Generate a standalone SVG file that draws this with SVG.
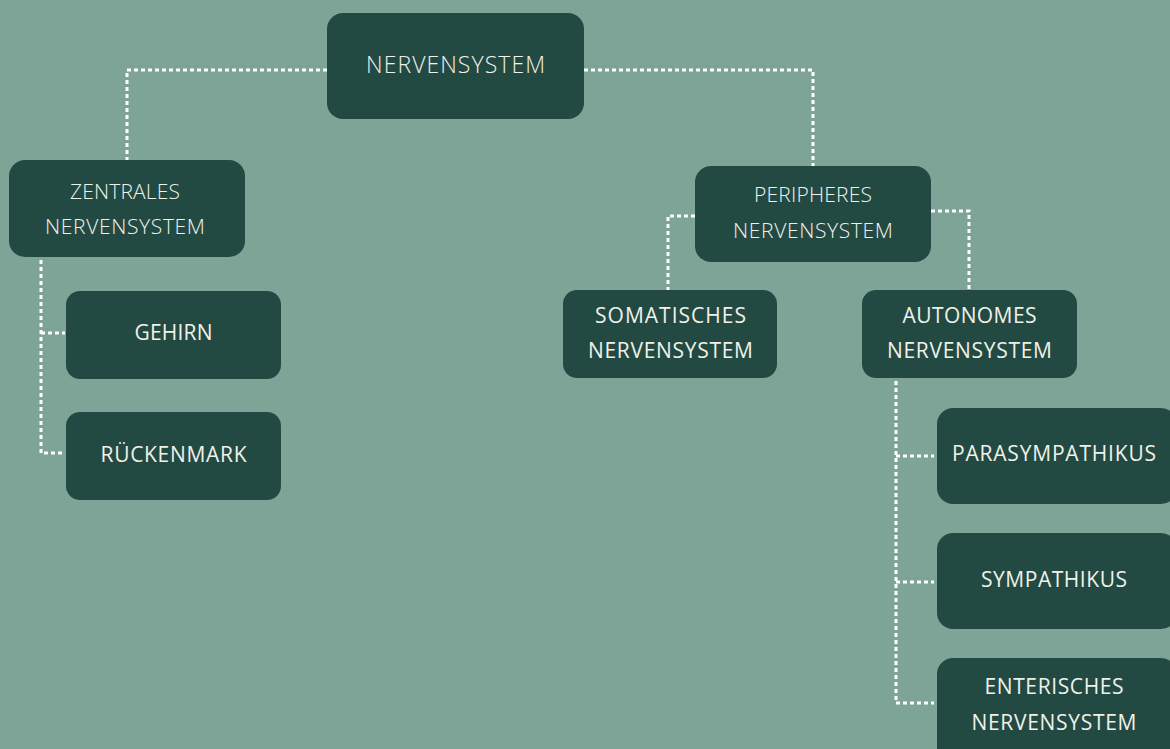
<svg xmlns="http://www.w3.org/2000/svg" width="1170" height="749" viewBox="0 0 1170 749">
<style>
.bg{fill:#7da497}
.box{fill:#224a43}
.t{font-family:"Open Sans","Liberation Sans",sans-serif;font-size:21px;fill:#f0f1e8;text-anchor:middle}
.light{font-weight:300}
.title{font-weight:300;font-size:23px}
.c{fill:none;stroke:#ffffff;stroke-width:3;stroke-dasharray:4 3}
</style>
<rect class="bg" x="0" y="0" width="1170" height="749"/>
<g id="connectors">
<path class="c" d="M327 70 H127 V160"/>
<path class="c" d="M584 70 H813 V166"/>
<path class="c" d="M41 260 V453 H65 M41 333 H65"/>
<path class="c" d="M695 216 H668 V290"/>
<path class="c" d="M931 211 H969 V290"/>
<path class="c" d="M896 381 V703 H934 M896 456 H934 M896 582 H934"/>
</g>
<g id="n-nervensystem"><rect class="box" x="327" y="13" width="257" height="106" rx="16"/><text class="t title" x="455.5" y="73" textLength="179" lengthAdjust="spacing">NERVENSYSTEM</text></g>
<g id="n-zns"><rect class="box" x="9" y="160" width="236" height="97" rx="16"/><text class="t light" x="125" y="199" textLength="110" lengthAdjust="spacing">ZENTRALES</text><text class="t light" x="125" y="234" textLength="160" lengthAdjust="spacing">NERVENSYSTEM</text></g>
<g id="n-gehirn"><rect class="box" x="66" y="291" width="215" height="88" rx="14"/><text class="t" x="173.5" y="340" textLength="78" lengthAdjust="spacing">GEHIRN</text></g>
<g id="n-rueckenmark"><rect class="box" x="66" y="412" width="215" height="88" rx="14"/><text class="t" x="173.5" y="462" textLength="146" lengthAdjust="spacing">RÜCKENMARK</text></g>
<g id="n-pns"><rect class="box" x="695" y="166" width="236" height="96" rx="16"/><text class="t light" x="813" y="202" textLength="118" lengthAdjust="spacing">PERIPHERES</text><text class="t light" x="813" y="238" textLength="160" lengthAdjust="spacing">NERVENSYSTEM</text></g>
<g id="n-somatisch"><rect class="box" x="563" y="290" width="214" height="88" rx="14"/><text class="t" x="670.5" y="323" textLength="151" lengthAdjust="spacing">SOMATISCHES</text><text class="t" x="670.5" y="358" textLength="165" lengthAdjust="spacing">NERVENSYSTEM</text></g>
<g id="n-autonom"><rect class="box" x="862" y="290" width="215" height="88" rx="14"/><text class="t" x="969.5" y="323" textLength="134" lengthAdjust="spacing">AUTONOMES</text><text class="t" x="969.5" y="358" textLength="165" lengthAdjust="spacing">NERVENSYSTEM</text></g>
<g id="n-parasympathikus"><rect class="box" x="937" y="408" width="240" height="96" rx="16"/><text class="t" x="1054" y="461" textLength="204" lengthAdjust="spacing">PARASYMPATHIKUS</text></g>
<g id="n-sympathikus"><rect class="box" x="937" y="533" width="240" height="96" rx="16"/><text class="t" x="1054" y="587" textLength="146" lengthAdjust="spacing">SYMPATHIKUS</text></g>
<g id="n-enterisch"><rect class="box" x="937" y="658" width="240" height="106" rx="16"/><text class="t" x="1054" y="694" textLength="139" lengthAdjust="spacing">ENTERISCHES</text><text class="t" x="1054" y="730" textLength="165" lengthAdjust="spacing">NERVENSYSTEM</text></g>
</svg>
